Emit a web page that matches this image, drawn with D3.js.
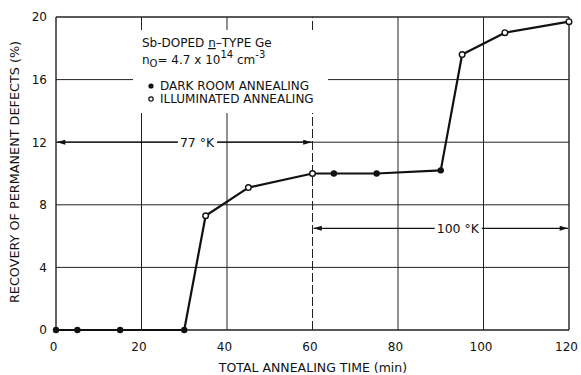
<!DOCTYPE html>
<html>
<head>
<meta charset="utf-8">
<script src="https://cdn.jsdelivr.net/npm/d3@7"></script>
<style>
  body { margin: 0; background: #fff; }
  text { font-family: "DejaVu Sans", Arial, sans-serif; fill: #111; }
</style>
</head>
<body>
<script>
// data
var darkTime = [0, 5, 15, 30, 65, 75, 90];
var darkRecovery = [0, 0, 0, 0, 10, 10, 10.2];
var illumTime = [35, 45, 60, 95, 105, 120];
var illumRecovery = [7.3, 9.1, 10, 17.6, 19, 19.7];
var xTicks = [0, 20, 40, 60, 80, 100, 120];
var yTicks = [0, 4, 8, 12, 16, 20];

var w = 581, h = 375;
var font = '"DejaVu Sans", Arial, sans-serif';

var svg = d3.select('body').append('svg')
    .attr('width', w)
    .attr('height', h);

var xScale = d3.scaleLinear().domain([0, 120]).range([56, 569]);
var yScale = d3.scaleLinear().domain([0, 20]).range([330, 17]);

// grid
var grid = svg.append('g');
grid.selectAll('line.v')
    .data(xTicks)
    .enter().append('line')
    .attr('x1', function(d){ return xScale(d); })
    .attr('x2', function(d){ return xScale(d); })
    .attr('y1', yScale(0))
    .attr('y2', yScale(20))
    .attr('stroke', '#222')
    .attr('stroke-width', function(d){ return (d === 0 || d === 120) ? 1.4 : 1; })
    .attr('stroke-dasharray', function(d){ return d === 60 ? '9,3' : null; });

grid.selectAll('line.h')
    .data(yTicks)
    .enter().append('line')
    .attr('x1', xScale(0))
    .attr('x2', xScale(120))
    .attr('y1', function(d){ return yScale(d); })
    .attr('y2', function(d){ return yScale(d); })
    .attr('stroke', '#222')
    .attr('stroke-width', function(d){ return (d === 0 || d === 20) ? 1.4 : 1; });

// axes labels
var xAxis = d3.axisBottom(xScale).tickValues(xTicks).tickSize(0).tickPadding(12);
svg.append('g')
    .attr('transform', 'translate(-3,' + yScale(0) + ')')
    .call(xAxis)
    .call(function(g){ g.select('.domain').remove(); })
    .selectAll('text')
    .style('font-size', '12px')
    .style('font-family', font)
    .attr('fill', '#111');

var yAxis = d3.axisLeft(yScale).tickValues(yTicks).tickSize(0).tickPadding(9);
svg.append('g')
    .attr('transform', 'translate(' + xScale(0) + ',0)')
    .call(yAxis)
    .call(function(g){ g.select('.domain').remove(); })
    .selectAll('text')
    .style('font-size', '12px')
    .style('font-family', font)
    .attr('fill', '#111');

svg.append('text')
    .attr('x', 313)
    .attr('y', 372)
    .attr('text-anchor', 'middle')
    .style('font-size', '12.5px')
    .text('TOTAL ANNEALING TIME (min)');

svg.append('text')
    .attr('transform', 'translate(19,172) rotate(-90)')
    .attr('text-anchor', 'middle')
    .style('font-size', '12.8px')
    .text('RECOVERY OF PERMANENT DEFECTS (%)');

// arrows
var defs = svg.append('defs');
defs.append('marker')
    .attr('id', 'arr')
    .attr('viewBox', '0 0 10 6')
    .attr('refX', 10).attr('refY', 3)
    .attr('markerWidth', 12).attr('markerHeight', 5)
    .attr('markerUnits', 'userSpaceOnUse')
    .attr('orient', 'auto-start-reverse')
    .append('path').attr('d', 'M0,0 L10,3 L0,6 Z').attr('fill', '#111');

function rangeArrow(x0, x1, yv, label, labelX) {
    svg.append('line')
        .attr('x1', xScale(x0) + 1).attr('x2', xScale(x1) - 1)
        .attr('y1', yScale(yv)).attr('y2', yScale(yv))
        .attr('stroke', '#111').attr('stroke-width', 1.2)
        .attr('marker-start', 'url(#arr)')
        .attr('marker-end', 'url(#arr)');
    var t = svg.append('text')
        .attr('x', xScale(labelX))
        .attr('y', yScale(yv) + 5)
        .attr('text-anchor', 'middle')
        .style('font-size', '12.5px')
        .text(label);
    var bb = t.node().getBBox();
    svg.insert('rect', function(){ return t.node(); })
        .attr('x', bb.x - 2).attr('y', bb.y)
        .attr('width', bb.width + 4).attr('height', bb.height)
        .attr('fill', '#fff');
}
rangeArrow(0, 60, 12, '77 °K', 33);
rangeArrow(60, 120, 6.5, '100 °K', 94);

// legend box (white behind text)
svg.append('rect')
    .attr('x', 133).attr('y', 30)
    .attr('width', 195).attr('height', 83)
    .attr('fill', '#fff');

var leg = svg.append('g').style('font-size', '12px');
var l1 = leg.append('text').attr('x', 142).attr('y', 47);
l1.append('tspan').text('Sb-DOPED ');
l1.append('tspan').attr('text-decoration', 'underline').text('n');
l1.append('tspan').text('\u2013TYPE Ge');

var l2 = leg.append('text').attr('x', 142).attr('y', 64);
l2.append('tspan').text('n');
l2.append('tspan').attr('dy', 3).style('font-size', '10px').text('O');
l2.append('tspan').attr('dy', -3).text('= 4.7 x 10');
l2.append('tspan').attr('dy', -6).style('font-size', '10px').text('14');
l2.append('tspan').attr('dy', 6).text(' cm');
l2.append('tspan').attr('dy', -6).style('font-size', '10px').text('-3');

leg.append('circle').attr('cx', 151).attr('cy', 86).attr('r', 2.6).attr('fill', '#111');
leg.append('text').attr('x', 160).attr('y', 90).text('DARK ROOM ANNEALING');
leg.append('circle').attr('cx', 151).attr('cy', 99).attr('r', 2.2)
    .attr('fill', '#fff').attr('stroke', '#111').attr('stroke-width', 1.2);
leg.append('text').attr('x', 160).attr('y', 103).text('ILLUMINATED ANNEALING');

// combined curve, sorted by time
var allPts = darkTime.map(function(t, i){ return {t: t, v: darkRecovery[i], dark: true}; })
    .concat(illumTime.map(function(t, i){ return {t: t, v: illumRecovery[i], dark: false}; }))
    .sort(function(a, b){ return a.t - b.t; });

var line = d3.line()
    .x(function(d){ return xScale(d.t); })
    .y(function(d){ return yScale(d.v); });

svg.append('path')
    .datum(allPts)
    .attr('d', line)
    .attr('fill', 'none')
    .attr('stroke', '#111')
    .attr('stroke-width', 2.2)
    .attr('stroke-linejoin', 'round');

svg.selectAll('circle.pt')
    .data(allPts)
    .enter().append('circle')
    .attr('class', 'pt')
    .attr('cx', function(d){ return xScale(d.t); })
    .attr('cy', function(d){ return yScale(d.v); })
    .attr('r', function(d){ return d.dark ? 3.2 : 2.8; })
    .attr('fill', function(d){ return d.dark ? '#111' : '#fff'; })
    .attr('stroke', '#111')
    .attr('stroke-width', function(d){ return d.dark ? 0 : 1.4; });
</script>
</body>
</html>
